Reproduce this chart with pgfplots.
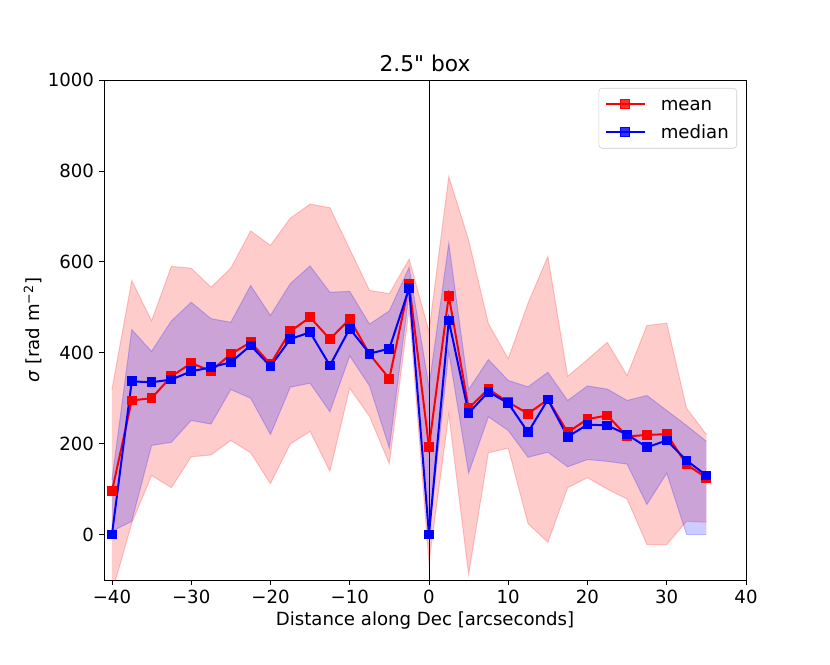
\documentclass[border=0pt]{standalone}
\usepackage{fontspec}
\setmainfont{DejaVu Sans}
\newfontfamily\plainfont{DejaVu Sans}
\usepackage{pgfplots}
\usepackage{pgfplotstable}
\pgfplotsset{compat=1.18}
\usepgfplotslibrary{fillbetween}

\pgfplotstableread{
x     mean median rup rlo  bup blo
-40    95    0    319 -129 120   7
-37.5 295  337    559   25 451  29
-35   300  335    470  130 403 196
-32.5 348  341    590  103 470 203
-30   377  359    586  171 511 251
-27.5 360  368    544  175 475 243
-25   397  379    586  207 467 319
-22.5 423  416    668  180 548 300
-20   375  370    636  112 482 220
-17.5 447  430    696  199 552 324
-15   478  445    727  227 591 333
-12.5 430  372    719  139 533 270
-10   474  453    628  322 535 393
-7.5  397  398    537  260 463 327
-5    343  409    530  156 492 190
-2.5  551  542    606  496 588 530
0     193    0    447  -62 326  -3
2.5   525  471    788  265 641 401
5     278  267    648  -88 319 135
7.5   320  314    464  180 385 259
10    291  289    387  190 339 229
12.5  266  225    509   24 325 170
15    297  297    612  -17 357 181
17.5  225  215    348  103 295 149
20    254  242    385  125 327 165
22.5  262  240    423  100 320 161
25    216  220    350   78 295 155
27.5  219  192    460  -22 306  66
30    221  207    465  -22 273 135
32.5  154  163    278   29 240   0
35    125  130    220   27 205   0
}\data

\begin{document}
\begin{tikzpicture}
\begin{axis}[
  at={(78pt,63pt)}, anchor=south west,
  scale only axis, width=481.5pt, height=375pt,
  xmin=-41, xmax=40, ymin=-100, ymax=1000,
  xtick={-40,-30,...,40},
  xticklabels={−40,−30,−20,−10,0,10,20,30,40},
  ytick={0,200,...,1000},
  yticklabels={0,200,400,600,800,1000},
  tick align=outside, xtick pos=lower, ytick pos=left,
  major tick length=3.75pt,
  every tick/.style={black, line width=0.6pt},
  axis line style={line width=0.6pt},
  tick label style={font=\fontsize{13.6}{16}\selectfont},
  xticklabel style={anchor=north, inner sep=0pt, yshift=-3.75pt},
  yticklabel style={anchor=east, inner sep=0pt, xshift=-3.55pt},
  title={\plainfont 2.5" box},
  title style={at={(axis description cs:0.5,1)}, anchor=base, yshift=0.2pt, font=\fontsize{16.3}{19}\selectfont},
  xlabel={Distance along Dec [arcseconds]},
  xlabel style={at={(axis description cs:0.5,0)}, anchor=base, yshift=-33.75pt, font=\fontsize{13.6}{16}\selectfont},
  ylabel={{\itshape σ} [rad m\textsuperscript{−2}]},
  ylabel style={at={(axis description cs:-0.0997,0.5)}, anchor=base, font=\fontsize{13.6}{16}\selectfont},
  legend style={at={(axis description cs:0.986,0.984)}, anchor=north east,
    draw=black!20, rounded corners=2.5pt, fill=white, fill opacity=0.8, text opacity=1,
    font=\fontsize{13.6}{16}\selectfont, inner xsep=4.5pt, inner ysep=1.5pt, row sep=0pt, column sep=9.75pt,
    nodes={inner xsep=1.5pt, inner ysep=5.5pt, text height=10pt, text depth=0pt}},
  legend cell align=left,
  legend image code/.code={\draw[mark repeat=2,mark phase=2,#1] plot coordinates {(0pt,0pt) (14.6pt,0pt) (29.2pt,0pt)};},
]
\addplot[black, line width=0.5pt, forget plot] coordinates {(0,-100) (0,1000)};

\addplot[name path=ru, draw=red, draw opacity=0.2, line width=0.75pt, forget plot] table[x=x, y=rup] {\data};
\addplot[name path=rl, draw=red, draw opacity=0.2, line width=0.75pt, forget plot] table[x=x, y=rlo] {\data};
\addplot[fill=red, fill opacity=0.2, draw=none, forget plot] fill between[of=ru and rl];

\addplot[name path=bu, draw=blue, draw opacity=0.2, line width=0.75pt, forget plot] table[x=x, y=bup] {\data};
\addplot[name path=bl, draw=blue, draw opacity=0.2, line width=0.75pt, forget plot] table[x=x, y=blo] {\data};
\addplot[fill=blue, fill opacity=0.2, draw=none, forget plot] fill between[of=bu and bl];

\addplot[red, line width=1.5pt, mark=square*, mark size=3.3pt, mark options={solid, fill=red, draw=red, line width=0pt}] table[x=x, y=mean] {\data};
\addlegendentry{mean}
\addplot[blue, line width=1.5pt, mark=square*, mark size=3.3pt, mark options={solid, fill=blue, draw=blue, line width=0pt}] table[x=x, y=median] {\data};
\addlegendentry{median}
\end{axis}
\path (0,0) rectangle (622.5pt,498pt);
\end{tikzpicture}
\end{document}
